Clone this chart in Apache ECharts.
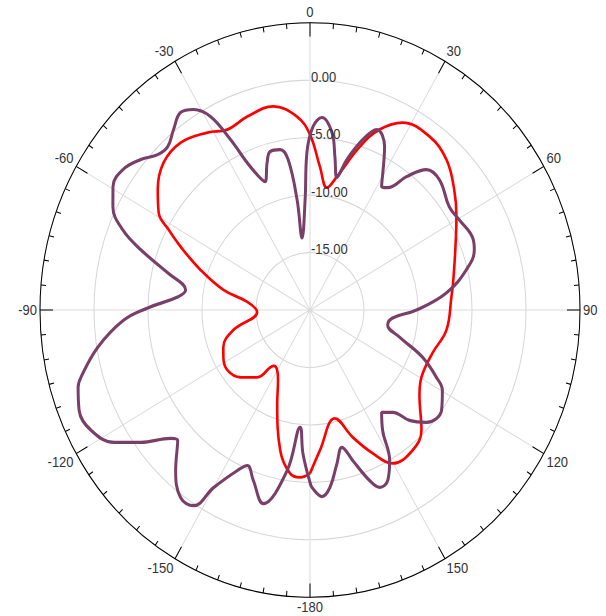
<!DOCTYPE html>
<html>
<head>
<meta charset="utf-8">
<script src="https://cdn.jsdelivr.net/npm/echarts@6/dist/echarts.min.js"></script>
<style>
html,body{margin:0;padding:0;background:#fff;overflow:hidden;width:606px;height:616px;}
#c{width:606px;height:600px;transform:scaleY(1.0639);transform-origin:0 0;}
</style>
</head>
<body>
<div id="c"></div>
<script>
// angle (deg, clockwise from top) , level (dB)
const redAngles = [-180,-176.4,-172.6,-167.3,-159.5,-154.2,-149.9,-145.5,-140.2,-132.2,-124.4,-117.1,-111.9,-103.8,-92.0,-83.1,-77.7,-71.0,-65.3,-61.9,-58.9,-53.4,-46.6,-39.4,-31.6,-26.0,-19.0,-10.9,-4.1,0,4.2,8.4,12.1,18.0,22.3,27.7,36.2,44.0,51.9,59.1,68.7,78.8,85.1,97.9,108.3,119.5,126.2,135.4,142.2,150.2,155.0,160.3,166.3,175.7,180];
const redValues = [-5.78,-5.4,-5.66,-7.47,-11.33,-13.2,-13.94,-14.1,-12.38,-11.29,-10.73,-10.99,-11.35,-12.69,-15.1,-14.15,-11.79,-9.28,-6.82,-5.17,-3.64,-2.44,-1.34,-1.14,-1.87,-2.53,-2.19,-1.96,-3.12,-4.73,-7.49,-9.24,-8.13,-5.05,-3.02,-1.57,-1.28,-1.81,-3.03,-4.2,-5.56,-6.47,-6.86,-7.25,-8.06,-8.14,-7.44,-5.3,-4.53,-4.61,-6.23,-8.23,-10.3,-7.75,-5.78];

const purpleAngles = [-180,-177.0,-174.9,-171.4,-165.6,-160.5,-156.8,-154.3,-150.0,-147.7,-143.7,-138.3,-132.8,-130.9,-126.3,-122.4,-117.3,-112.2,-107.4,-105.4,-99.3,-92.9,-89.3,-84.7,-81.4,-76.2,-71.5,-68.1,-63.8,-59.5,-54.8,-50.1,-46.2,-42.8,-38.8,-34.9,-31.7,-28.7,-26.4,-23.9,-20.4,-17.2,-15.0,-11.2,-8.8,-7.1,-6.7,-2.7,-1.2,1.0,3.8,7.5,9.8,12.2,14.6,18.2,21.5,25.9,31.7,34.0,37.6,41.4,46.6,55.1,60.4,67.0,71.0,76.4,83.3,90,95.2,100.3,105.9,111.5,116.6,119.7,125.6,132.2,136.2,139.3,143.3,147.3,150.6,154.1,157.3,159.6,163.2,166.1,169.4,173.2,176.1,179.3,180];
const purpleValues = [-5.0,-7.5,-9.75,-5.88,-2.61,-4.27,-5.28,-4.5,-2.15,0.15,0.25,-1.3,-3.3,-2.94,-0.55,1.5,2.82,3.09,2.5,1.99,-0.11,-2.74,-4.98,-7.69,-8.35,-6.43,-3.48,-1.32,0.34,1.17,1.2,0.42,-0.46,-0.61,0.16,0.95,0.51,-0.8,-3.44,-6.35,-8.08,-6.57,-5.73,-5.77,-6.75,-10.33,-13.68,-10.39,-6.3,-4.03,-3.21,-4.42,-6.45,-8.21,-6.47,-4.39,-3.12,-4.19,-7.38,-7.15,-5.35,-3.7,-3.5,-4.28,-4.11,-3.68,-3.91,-5.11,-7.29,-10.14,-12.32,-12.69,-11.38,-8.81,-6.91,-5.89,-5.02,-5.45,-6.69,-8.26,-8.9,-7.55,-4.98,-3.52,-3.26,-4.17,-6.32,-7.69,-6.42,-4.44,-3.73,-4.55,-5.0];

const angleTickLabels = ['0','30','60','90','120','150','-180','-150','-120','-90','-60','-30'];
const radiusTickLabels = ['-15.00','-10.00','-5.00','0.00'];
const radiusTicks = [-15,-10,-5,0];

function toPolar(angles, values){
  return angles.map((a,i)=>[values[i], a<0 ? a+360 : a]);
}

const angleBase = {type:'value', min:0, max:360, interval:30, startAngle:90, clockwise:true};
const radiusBase = {type:'value', min:-20, max:5, interval:5};
const font = {color:'#333', fontSize:13, fontFamily:'Arial, Liberation Sans'};

const chart = echarts.init(document.getElementById('c'), null, {renderer:'svg'});
chart.setOption({
  animation:false,
  backgroundColor:'#fff',
  polar:[{center:[310,291.4], radius:270},{center:[310,291.4], radius:270}],
  angleAxis:[
    Object.assign({}, angleBase, {polarIndex:0, z:1,
      axisLine:{show:false}, axisTick:{show:false}, axisLabel:{show:false},
      splitLine:{show:true, lineStyle:{color:'#dcdcdc', width:1}}}),
    Object.assign({}, angleBase, {polarIndex:1, z:30,
      axisLine:{show:true, lineStyle:{color:'#000', width:1}},
      axisTick:{show:true, inside:true, length:13, lineStyle:{color:'#000', width:1}},
      minorTick:{show:true, splitNumber:6, length:5, lineStyle:{color:'#000', width:1}},
      splitLine:{show:false},
      axisLabel:Object.assign({}, font, {margin:3,
        formatter:function(v){ const i=Math.round(v/30); return i>=12 ? '' : angleTickLabels[i]; }})})
  ],
  radiusAxis:[
    Object.assign({}, radiusBase, {polarIndex:0, z:1,
      axisLine:{show:false}, axisTick:{show:false}, axisLabel:{show:false},
      splitLine:{show:true, lineStyle:{color:'#d6d6d6', width:1}}}),
    Object.assign({}, radiusBase, {polarIndex:1, z:30,
      axisLine:{show:false}, axisTick:{show:false}, splitLine:{show:false},
      axisLabel:Object.assign({}, font, {margin:-1, align:'left', verticalAlign:'bottom', lineHeight:6,
        formatter:function(v){ const i=radiusTicks.indexOf(v); return i<0 ? '' : radiusTickLabels[i]; }})})
  ],
  series:[
    {type:'line', coordinateSystem:'polar', polarIndex:0, data:toPolar(redAngles, redValues), symbol:'none', smooth:0.4,
     lineStyle:{color:'#ff0000', width:2.6}, z:5},
    {type:'line', coordinateSystem:'polar', polarIndex:0, data:toPolar(purpleAngles, purpleValues), symbol:'none', smooth:0.4,
     lineStyle:{color:'#7a3f68', width:3}, z:6}
  ]
});
</script>
</body>
</html>
